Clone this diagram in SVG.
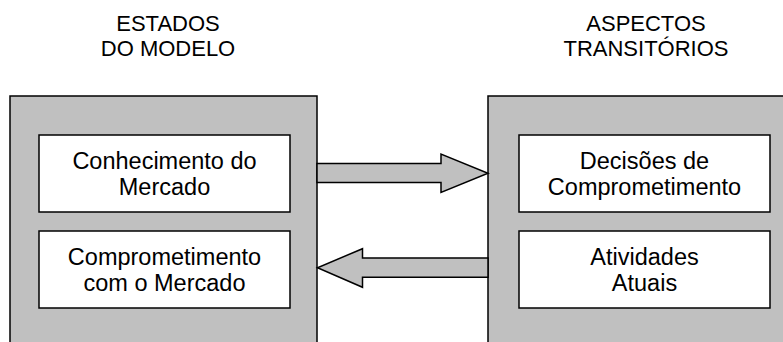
<svg xmlns="http://www.w3.org/2000/svg" width="783" height="342" viewBox="0 0 783 342">
  <style>
    .panel { fill: #c0c0c0; stroke: #000; stroke-width: 1.5; }
    .box { fill: #fff; stroke: #000; stroke-width: 1.5; }
    .arrow { fill: #c0c0c0; stroke: #000; stroke-width: 1.5; stroke-linejoin: miter; }
    .title { font-family: "Liberation Sans", Arial, sans-serif; font-size: 22px; fill: #000; text-anchor: middle; }
    .label { font-family: "Liberation Sans", Arial, sans-serif; font-size: 23.5px; fill: #000; text-anchor: middle; }
  </style>
  <rect width="783" height="342" fill="#fff"/>

  <!-- column headings -->
  <g id="heading-estados">
    <text class="title" x="168" y="30.5">ESTADOS</text>
    <text class="title" x="168" y="55.5">DO MODELO</text>
  </g>
  <g id="heading-aspectos">
    <text class="title" x="646" y="30.5">ASPECTOS</text>
    <text class="title" x="646" y="55.5">TRANSITÓRIOS</text>
  </g>

  <!-- grey panels -->
  <g id="panel-estados">
    <rect class="panel" x="10" y="96" width="307" height="260"/>
  </g>
  <g id="panel-aspectos">
    <rect class="panel" x="488" y="96" width="310" height="260"/>
  </g>

  <!-- state boxes -->
  <g id="conhecimento">
    <rect class="box" x="39" y="135" width="251" height="77"/>
    <text class="label" x="164.5" y="169">Conhecimento do</text>
    <text class="label" x="164.5" y="195">Mercado</text>
  </g>
  <g id="comprometimento">
    <rect class="box" x="39" y="231" width="251" height="77"/>
    <text class="label" x="164.5" y="265">Comprometimento</text>
    <text class="label" x="164.5" y="291">com o Mercado</text>
  </g>

  <!-- transitional boxes -->
  <g id="decisoes">
    <rect class="box" x="519" y="135" width="251" height="77"/>
    <text class="label" x="644.5" y="169">Decisões de</text>
    <text class="label" x="644.5" y="195">Comprometimento</text>
  </g>
  <g id="atividades">
    <rect class="box" x="519" y="231" width="251" height="77"/>
    <text class="label" x="644.5" y="265">Atividades</text>
    <text class="label" x="644.5" y="291">Atuais</text>
  </g>

  <!-- block arrows between panels -->
  <g id="connectors">
    <polygon class="arrow" points="317,163.5 441,163.5 441,154 488,173.3 441,192.5 441,182.5 317,182.5"/>
    <polygon class="arrow" points="488,258 362.5,258 362.5,248.7 317.5,267.7 362.5,287.3 362.5,277.3 488,277.3"/>
  </g>
</svg>
